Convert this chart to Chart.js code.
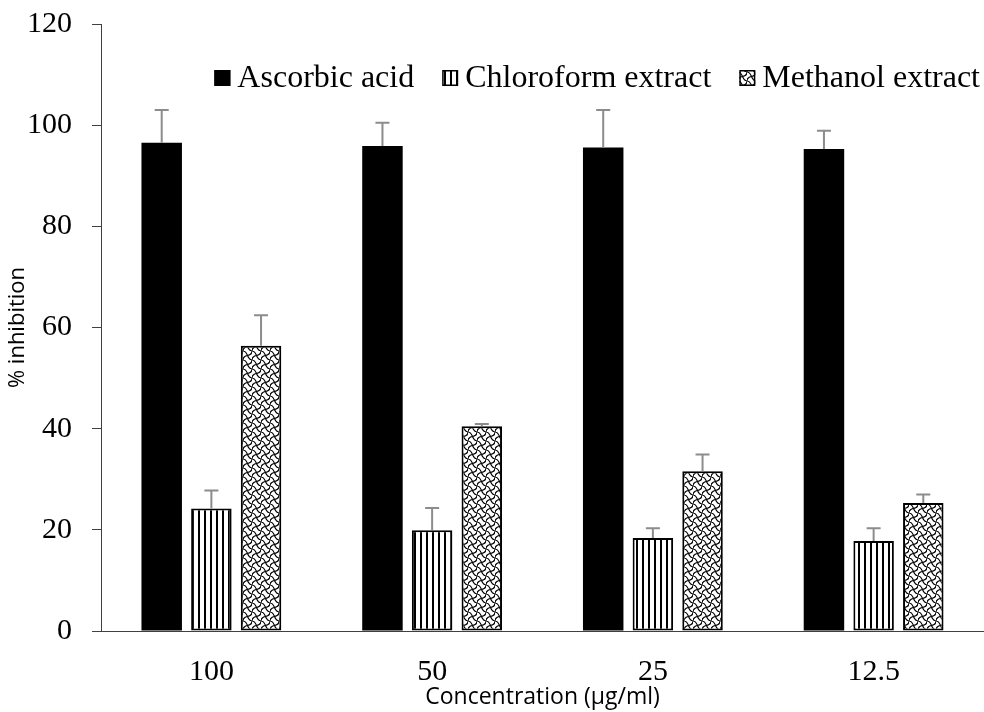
<!DOCTYPE html>
<html>
<head>
<meta charset="utf-8">
<script src="https://cdn.jsdelivr.net/npm/chart.js@4.4.1/dist/chart.umd.min.js"></script>
<style>
  html, body { margin: 0; padding: 0; background: #fff; }
  #wrap { width: 984px; height: 712px; }
</style>
</head>
<body>
<div id="wrap"><canvas id="chart" width="984" height="712"></canvas></div>
<script>
// ----------- Data -----------
const concentrations = ['100', '50', '25', '12.5'];
const seriesNames = ['Ascorbic acid', 'Chloroform extract', 'Methanol extract'];
const ascorbicAcid = [96.5, 95.9, 95.6, 95.3];
const ascorbicErr = [6.5, 4.6, 7.4, 3.6];
const chloroform = [24.2, 19.9, 18.4, 17.8];
const chloroformErr = [3.6, 4.4, 1.9, 2.5];
const methanol = [56.4, 40.5, 31.6, 25.3];
const methanolErr = [6.0, 0.4, 3.3, 1.7];
const yMin = 0, yMax = 120, yStep = 20;

const canvas = document.getElementById('chart');
const mainCtx = canvas.getContext('2d');

// ----------- Fill patterns -----------
const stripePattern = () => {
  const c = document.createElement('canvas');
  c.width = 6; c.height = 6;
  const g = c.getContext('2d');
  g.fillStyle = '#fff';
  g.fillRect(0, 0, 6, 6);
  g.fillStyle = '#000';
  g.fillRect(0, 0, 2, 6);
  return mainCtx.createPattern(c, 'repeat');
};

const shinglePattern = () => {
  const c = document.createElement('canvas');
  c.width = 9; c.height = 9;
  const g = c.getContext('2d');
  g.fillStyle = '#fff';
  g.fillRect(0, 0, 9, 9);
  g.strokeStyle = '#000';
  g.lineWidth = 1.2;
  g.beginPath();
  g.moveTo(0, 0);
  g.bezierCurveTo(5.5, 0, 3.5, 9, 9, 9);
  g.moveTo(0, 9);
  g.bezierCurveTo(0, 5.5, 3.5, 4.5, 4.5, 4.5);
  g.moveTo(4.5, 4.5);
  g.bezierCurveTo(5.5, 4.5, 9, 3.5, 9, 0);
  g.stroke();
  return mainCtx.createPattern(c, 'repeat');
};

// ----------- Error bars -----------
const errorBars = {
  id: 'errorBars',
  afterDatasetsDraw(chart) {
    const { ctx, scales: { y } } = chart;
    ctx.save();
    ctx.strokeStyle = '#8c8c8c';
    ctx.lineWidth = 2;
    chart.data.datasets.forEach((ds, i) => {
      chart.getDatasetMeta(i).data.forEach((bar, j) => {
        const top = y.getPixelForValue(ds.data[j] + ds.errors[j]);
        ctx.beginPath();
        ctx.moveTo(bar.x, bar.y);
        ctx.lineTo(bar.x, top);
        ctx.moveTo(bar.x - 7, top);
        ctx.lineTo(bar.x + 7, top);
        ctx.stroke();
      });
    });
    ctx.restore();
  }
};

// ----------- Legend inside plot -----------
const insideLegend = {
  id: 'insideLegend',
  afterDraw(chart) {
    const { ctx, chartArea } = chart;
    const box = 16, gapText = 7, gapItem = 28;
    ctx.save();
    ctx.font = '32px "Liberation Serif"';
    const widths = chart.data.datasets.map(ds => ctx.measureText(ds.label).width);
    const total = widths.reduce((a, w) => a + box + gapText + w, 0) + gapItem * (widths.length - 1);
    let x = chartArea.right - 4 - total;
    const baseline = chartArea.top + 63;
    chart.data.datasets.forEach((ds, i) => {
      ctx.fillStyle = ds.backgroundColor;
      ctx.fillRect(x, baseline - 17, box, box);
      ctx.strokeStyle = '#000';
      ctx.lineWidth = 1.5;
      ctx.strokeRect(x + 0.75, baseline - 16.25, box - 1.5, box - 1.5);
      ctx.fillStyle = '#000';
      ctx.textBaseline = 'alphabetic';
      ctx.fillText(ds.label, x + box + gapText, baseline);
      x += box + gapText + widths[i] + gapItem;
    });
    ctx.restore();
  }
};

new Chart(mainCtx, {
  type: 'bar',
  data: {
    labels: concentrations,
    datasets: [{
      label: seriesNames[0],
      data: ascorbicAcid,
      errors: ascorbicErr,
      backgroundColor: '#000',
      borderWidth: 0
    }, {
      label: seriesNames[1],
      data: chloroform,
      errors: chloroformErr,
      backgroundColor: stripePattern(),
      borderColor: '#000',
      borderWidth: 2,
      borderSkipped: false
    }, {
      label: seriesNames[2],
      data: methanol,
      errors: methanolErr,
      backgroundColor: shinglePattern(),
      borderColor: '#000',
      borderWidth: 2,
      borderSkipped: false
    }]
  },
  options: {
    responsive: false,
    animation: false,
    categoryPercentage: 0.675,
    barPercentage: 0.815,
    layout: { padding: { top: 24, right: 0, bottom: 0, left: 0 } },
    plugins: {
      legend: { display: false },
      tooltip: { enabled: false }
    },
    scales: {
      x: {
        grid: { display: false },
        border: { color: '#404040', width: 1 },
        ticks: {
          color: '#000',
          padding: 15,
          font: { family: '"Liberation Serif"', size: 30 }
        },
        title: {
          display: true,
          text: 'Concentration (µg/ml)',
          color: '#000',
          padding: { top: 0, bottom: 1 },
          font: { family: '"Open Sans"', size: 23 }
        },
        afterFit: s => { s.height = 81; }
      },
      y: {
        min: yMin,
        max: yMax,
        grid: { drawOnChartArea: false, tickLength: 9, color: '#404040' },
        border: { color: '#404040', width: 1 },
        ticks: {
          stepSize: yStep,
          color: '#000',
          padding: 20,
          font: { family: '"Liberation Serif"', size: 30 }
        },
        title: {
          display: true,
          text: '% inhibition',
          color: '#000',
          padding: { top: 5, bottom: 0 },
          font: { family: '"Open Sans"', size: 22 }
        },
        afterFit: s => {
          s.width = 101;
          s.paddingTop = 0;
          s.paddingBottom = 0;
        }
      }
    }
  },
  plugins: [errorBars, insideLegend]
});
</script>
</body>
</html>
